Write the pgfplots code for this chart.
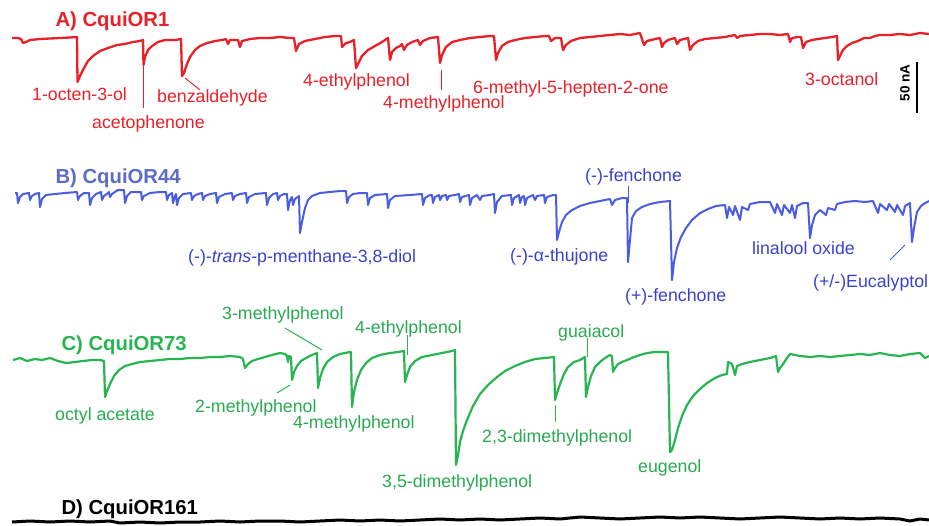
\documentclass[border=0pt]{standalone}
\usepackage{pgfplots}
\pgfplotsset{compat=1.18}
\usepackage{fontspec}
\setmainfont{Liberation Sans}
\definecolor{cred}{RGB}{232,32,40}
\definecolor{cblue}{RGB}{74,92,224}
\definecolor{cbluetxt}{RGB}{60,64,205}
\definecolor{cbluetitle}{RGB}{92,108,200}
\definecolor{cgreen}{RGB}{40,180,80}
\definecolor{cgreentxt}{RGB}{40,170,80}
\newcommand{\lab}{\fontsize{17.75}{20}\selectfont}
\newcommand{\ttl}{\fontsize{20.3}{23}\selectfont\bfseries}
\begin{document}
\begin{tikzpicture}
\begin{axis}[
  at={(0,0)}, anchor=south west,
  scale only axis, width=929pt, height=525pt,
  xmin=0, xmax=929, ymin=0, ymax=525, y dir=reverse,
  hide axis, clip=false,
]
% ---------------- A) red trace
\addplot[cred, line width=2.3pt, line join=round] coordinates {
(12,38) (18,38) (21,39) (23,43) (26,42) (30,40) (40,39) (50,38.5) (60,38) (70,37.5) (77,37) (77.5,82) (80,76) (84,68) (88,61) (93,56) (100,51) (108,48) (117,45) (125,44) (133,42) (140,41) (143,40) (143.5,65) (145,57) (148,50) (152,46) (158,42) (165,40) (175,40) (181,39) (182,76) (184,73) (187,64) (190,57) (195,50) (200,46) (207,43) (215,41) (222,40) (226,39) (228,44) (230,40) (238,40) (240,47) (242,41) (250,39) (260,38) (270,38) (280,37) (290,38) (294,38) (296,51) (299,44) (305,41) (315,39) (325,37) (335,36) (341,36) (342,47) (346,43) (350,42) (354,40) (356,68) (358,64) (362,56) (368,50) (375,46) (382,42) (388,38) (390,60) (392,52) (396,48) (400,46) (402,44) (404,50) (407,45) (412,42) (418,40) (420,45) (423,41) (430,38) (438,37) (440,63) (442,55) (446,47) (452,42) (460,40) (470,38) (480,37) (490,36) (494,36) (496,60) (498,53) (502,46) (508,42) (515,40) (525,38) (535,37) (545,36) (549,36) (551,41) (555,38) (561,38) (563,50) (566,45) (571,41) (580,38) (590,37) (600,36) (610,35) (620,34) (630,35) (635,34) (640,33) (642,39) (644,45) (647,41) (655,39) (660,38) (662,47) (664,43) (668,40) (675,38) (677,44) (680,40) (688,38) (690,50) (693,45) (698,41) (705,39) (715,38) (725,37) (735,35) (737,38) (740,36) (750,35) (760,34) (770,34) (780,35) (788,34) (790,42) (792,38) (798,37) (801,37) (803,48) (806,42) (812,40) (818,39) (825,38) (832,37) (837,36) (838,60) (840,56) (843,50) (847,46) (852,43) (858,41) (864,38) (870,38) (875,36) (880,35) (890,35) (900,34) (910,35) (920,33) (929,34)
};
\addplot[cred, line width=1pt] coordinates {(143.5,65) (143.5,108)};
\addplot[cred, line width=1pt] coordinates {(185,78) (200,90)};
\addplot[cred, line width=1pt] coordinates {(441,70) (441,90)};
% scale bar
\addplot[black, line width=2pt] coordinates {(917,62) (917,113)};
\node[rotate=90, font=\fontsize{13.5}{15}\selectfont\bfseries] at (axis cs:905,83) {50 nA};
% ---------------- B) blue trace
\addplot[cblue, line width=2pt, line join=round] coordinates {
(15,193) (17,193) (18,203) (20,197) (23,194) (29,193) (30,200) (32,196) (35,194) (39,193) (40,207) (42,199) (46,195) (55,194) (65,193) (77,192) (78,200) (80,196) (84,193) (89,193) (90,205) (92,198) (96,194) (101,192) (102,200) (104,196) (108,193) (109,192) (110,197) (112,194) (118,190) (124,190) (125,203) (127,196) (131,192) (141,192) (142,200) (144,196) (150,193) (160,192) (166,192) (167,200) (169,195) (172,193) (173,203) (175,196) (176,194) (177,205) (179,198) (183,194) (191,193) (192,200) (194,196) (198,194) (202,193) (203,200) (205,196) (210,194) (216,193) (217,203) (219,197) (225,194) (232,193) (233,200) (235,196) (240,194) (246,193) (247,203) (249,197) (255,194) (266,193) (267,205) (269,198) (273,194) (277,193) (278,200) (280,196) (284,194) (287,194) (288,210) (290,200) (292,197) (293,205) (295,199) (299,196) (300,233) (302,222) (305,208) (308,200) (312,196) (320,193) (330,192) (340,191) (346,191) (347,203) (349,197) (353,194) (360,193) (367,193) (368,205) (370,198) (375,195) (387,194) (388,208) (390,200) (395,196) (410,195) (422,194) (423,205) (425,198) (430,195) (432,195) (433,203) (435,197) (439,195) (440,200) (442,196) (446,195) (447,200) (449,196) (455,195) (459,194) (460,202) (462,197) (469,195) (470,205) (472,198) (477,195) (480,200) (482,196) (490,195) (494,194) (495,213) (497,202) (502,196) (511,195) (512,205) (514,198) (519,195) (520,203) (522,197) (524,196) (525,205) (527,198) (533,195) (535,200) (537,196) (544,195) (545,203) (547,197) (553,195) (556,195) (557,240) (559,232) (562,222) (566,215) (572,210) (580,206) (590,203) (600,201) (605,200) (610,199) (612,205) (615,200) (622,198) (627,198) (628,262) (630,240) (632,218) (636,211) (642,207) (650,204) (660,202) (670,201) (672,280) (674,262) (677,248) (681,237) (686,228) (692,220) (700,213) (708,209) (716,206) (725,205) (727,218) (729,207) (733,215) (735,206) (740,220) (742,207) (748,210) (750,204) (760,202) (770,202) (775,213) (777,204) (782,215) (784,205) (790,213) (792,205) (795,218) (797,206) (803,203) (808,203) (810,238) (812,225) (815,215) (820,210) (826,215) (828,208) (835,210) (837,204) (845,202) (855,201) (865,202) (873,201) (878,213) (880,204) (887,210) (889,204) (895,212) (897,205) (903,215) (905,206) (910,203) (912,242) (914,228) (917,212) (921,206) (925,203) (929,201)
};
\addplot[cblue, line width=1pt] coordinates {(628,186) (628,203)};
\addplot[cblue, line width=1pt] coordinates {(890,260) (905,245)};
% ---------------- C) green trace
\addplot[cgreen, line width=2.2pt, line join=round] coordinates {
(13,360) (20,358) (27,361) (35,359) (42,360) (50,358) (58,361) (66,363) (75,362) (83,361) (92,360) (100,360) (104,361) (105,397) (107,391) (110,384) (114,376) (119,370) (125,366) (132,364) (140,362) (150,361) (160,360) (170,359) (180,359) (190,358) (200,358) (210,357) (220,357) (230,356) (240,357) (243,359) (245,368) (248,364) (252,361) (258,359) (265,357) (272,355) (280,353) (285,354) (287,356) (288,362) (289,356) (291,357) (292,380) (294,372) (297,366) (301,361) (306,358) (312,355) (317,353) (318,388) (320,378) (323,369) (327,362) (333,357) (340,354) (350,352) (351,352) (352,407) (354,392) (357,380) (361,370) (366,363) (372,358) (380,355) (390,353) (398,352) (404,351) (405,382) (407,375) (410,367) (415,361) (422,357) (432,355) (442,353) (452,351) (455,350) (456,465) (458,455) (460,442) (463,431) (467,420) (473,406) (480,394) (488,385) (497,377) (505,371) (515,366) (525,362) (535,359) (545,358) (554,357) (555,400) (557,393) (560,384) (564,374) (568,367) (574,362) (580,360) (585,357) (586,397) (588,387) (591,376) (595,367) (600,362) (605,358) (610,355) (612,356) (613,372) (615,368) (618,364) (622,362) (627,360) (634,357) (640,355) (647,353) (655,352) (662,352) (668,352) (670,452) (672,450) (675,440) (678,428) (682,416) (687,405) (693,396) (700,389) (707,383) (715,378) (722,375) (727,374) (728,362) (732,364) (735,375) (737,366) (742,364) (750,362) (760,360) (770,358) (776,356) (778,372) (780,368) (783,364) (787,358) (790,354) (795,355) (800,356) (810,357) (820,356) (830,357) (840,356) (850,355) (860,354) (870,355) (880,353) (890,355) (900,356) (910,354) (920,353) (925,358) (929,356)
};
\addplot[cgreen, line width=1pt] coordinates {(285,328) (322,350)};
\addplot[cgreen, line width=1pt] coordinates {(277,393) (290,385)};
\addplot[cgreen, line width=1pt] coordinates {(407,335) (407,355)};
\addplot[cgreen, line width=1pt] coordinates {(555,405) (555,422)};
\addplot[cgreen, line width=1pt] coordinates {(587,338) (587,357)};
% ---------------- D) black trace
\addplot[black, line width=3pt, line join=round] coordinates {
(12,522) (30,521) (50,522) (70,521) (90,522) (110,521) (120,523) (140,522) (160,523) (180,522) (200,522) (220,521) (240,522) (260,521) (280,521) (300,522) (320,521) (340,520) (360,521) (380,520) (400,521) (420,520) (440,519) (460,520) (480,519) (500,520) (520,519) (540,518) (560,519) (580,517) (600,518) (620,519) (640,518) (660,517) (680,518) (700,517) (720,518) (740,519) (760,518) (780,517) (800,518) (820,519) (840,518) (860,519) (880,518) (900,519) (910,521) (920,519) (929,520)
};
% ---------------- titles
\node[anchor=base west, font=\ttl, text=cred] at (axis cs:52,26) {A) CquiOR1};
\node[anchor=base west, font=\ttl, text=cbluetitle] at (axis cs:52,183) {B) CquiOR44};
\node[anchor=base west, font=\ttl, text=cgreen] at (axis cs:58,350) {C) CquiOR73};
\node[anchor=base west, font=\ttl, text=black] at (axis cs:58,514) {D) CquiOR161};
% ---------------- red labels
\begin{scope}[every node/.style={anchor=base west, font=\lab, text=cred, inner sep=0pt}]
\node at (axis cs:32,100) {1-octen-3-ol};
\node at (axis cs:92,128) {acetophenone};
\node at (axis cs:157,102) {benzaldehyde};
\node at (axis cs:303,86) {4-ethylphenol};
\node at (axis cs:383,108) {4-methylphenol};
\node at (axis cs:473,93) {6-methyl-5-hepten-2-one};
\node at (axis cs:805,85) {3-octanol};
\end{scope}
% ---------------- blue labels
\begin{scope}[every node/.style={anchor=base west, font=\lab, text=cbluetxt, inner sep=0pt}]
\node at (axis cs:188,262) {(-)-\textit{trans}-p-menthane-3,8-diol};
\node at (axis cs:510,261) {(-)-α-thujone};
\node at (axis cs:585,181) {(-)-fenchone};
\node at (axis cs:625,301) {(+)-fenchone};
\node at (axis cs:752,254) {linalool oxide};
\node at (axis cs:813,287) {(+/-)Eucalyptol};
\end{scope}
% ---------------- green labels
\begin{scope}[every node/.style={anchor=base west, font=\lab, text=cgreentxt, inner sep=0pt}]
\node at (axis cs:222,319) {3-methylphenol};
\node at (axis cs:55,420) {octyl acetate};
\node at (axis cs:195,412) {2-methylphenol};
\node at (axis cs:293,428) {4-methylphenol};
\node at (axis cs:355,333) {4-ethylphenol};
\node at (axis cs:382,487) {3,5-dimethylphenol};
\node at (axis cs:482,442) {2,3-dimethylphenol};
\node at (axis cs:558,337) {guaiacol};
\node at (axis cs:638,472) {eugenol};
\end{scope}
\end{axis}
\pgfresetboundingbox
\useasboundingbox (0,0) rectangle (929pt,525pt);
\end{tikzpicture}
\end{document}
